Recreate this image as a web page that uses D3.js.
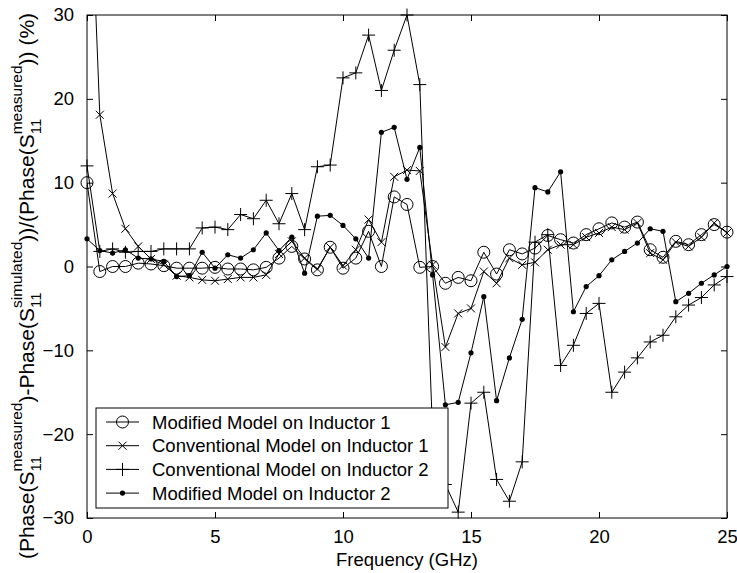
<!DOCTYPE html>
<html>
<head>
<meta charset="utf-8">
<script src="https://cdn.jsdelivr.net/npm/d3@7"></script>
<style>
  body { margin: 0; background: #fff; }
  text { font-family: "Liberation Sans", Arial, sans-serif; fill: #000; }
</style>
</head>
<body>
<div id="my_dataviz"></div>
<script>
// frequency points (GHz)
var freq = [0, 0.5, 1, 1.5, 2, 2.5, 3, 3.5, 4, 4.5, 5, 5.5, 6, 6.5, 7, 7.5, 8, 8.5, 9, 9.5,
            10, 10.5, 11, 11.5, 12, 12.5, 13, 13.5, 14, 14.5, 15, 15.5, 16, 16.5, 17, 17.5, 18, 18.5, 19, 19.5,
            20, 20.5, 21, 21.5, 22, 22.5, 23, 23.5, 24, 24.5, 25];

// Modified Model on Inductor 1 (circles)
var modInd1 = [10, -0.6, 0, 0, 0.4, 0.3, 0.1, -0.2, -0.2, -0.2, -0.1, -0.3, -0.3, -0.4, -0.1, 1.0, 2.4, 0.9, -0.4, 2.3,
               -0.2, 1.0, 4.2, 0, 8.3, 7.4, -0.1, 0, -2.0, -1.3, -1.7, 1.7, -0.9, 2.0, 1.5, 2.2, 3.7, 3.2, 2.8, 3.8,
               4.5, 5.2, 4.7, 5.3, 2.0, 1.1, 3.0, 2.6, 3.8, 5.0, 4.1];
// Conventional Model on Inductor 1 (x marks)
var convInd1 = [57, 18.1, 8.7, 4.5, 2.4, 0.9, 0.2, -1.1, -1.3, -1.6, -1.7, -1.5, -1.3, -1.3, -1.0, 1.5, 3.0, 1.0, -0.3, 2.3,
                0.1, 2.0, 5.6, 2.9, 10.7, 11.5, 11.4, 0.2, -9.6, -5.6, -5.0, -0.6, -2.0, 1.0, 0.2, 0.5, 2.0, 2.6, 2.6, 3.5,
                4.0, 4.7, 4.4, 5.2, 1.6, 0.8, 2.9, 2.4, 3.5, 5.2, 4.0];
// Conventional Model on Inductor 2 (+ marks)
var convInd2 = [12, 1.8, 2.1, 1.7, 1.8, 1.8, 2.1, 2.1, 2.1, 4.6, 4.7, 4.4, 6.2, 5.7, 7.9, 5.1, 8.7, 4.4, 11.9, 12.1,
                22.5, 23.1, 27.6, 21.0, 25.8, 30, 21.7, -20, -26, -29.3, -16.3, -15, -25.4, -28, -23.3, 2.9, 3.8, -11.8, -9.4, -5.6,
                -4.4, -15, -12.6, -10.9, -9.0, -8.2, -6.0, -4.6, -3.7, -2.2, -1.2];
// Modified Model on Inductor 2 (dots)
var modInd2 = [3.3, 1.9, 1.6, 2.0, 1.0, 0.9, 0.6, -1.2, -1.1, 1.7, -0.2, 1.4, 1.0, 2.0, 4.0, 1.9, 3.5, -0.8, 6.0, 6.1,
               4.9, 3.3, 1.0, 16.0, 16.6, 10.4, 14.2, -1.0, -16.5, -16.2, -10.3, -3.6, -16, -10.9, -6.3, 9.4, 8.9, 11.3, -5.4, -2.4,
               -1.1, 0.8, 1.8, 2.8, 4.5, 4.2, -4.2, -3.2, -2.0, -1.0, 0.0];

var seriesNames = ["Modified Model on Inductor 1", "Conventional Model on Inductor 1",
                   "Conventional Model on Inductor 2", "Modified Model on Inductor 2"];
var seriesMarks = ["circle", "cross", "plus", "dot"];
var xTicks = [0, 5, 10, 15, 20, 25];
var yTicks = [-30, -20, -10, 0, 10, 20, 30];

var W = 737, H = 573;
var mLeft = 87, mRight = 727, mTop = 15, mBottom = 518;
var fontSize = 18.5;

var svg = d3.select("#my_dataviz")
  .append("svg")
  .attr("width", W)
  .attr("height", H);

var x = d3.scaleLinear().domain([0, 25]).range([mLeft, mRight]);
var y = d3.scaleLinear().domain([-30, 30]).range([mBottom, mTop]);

svg.append("defs").append("clipPath").attr("id", "plotclip")
  .append("rect")
  .attr("x", mLeft).attr("y", mTop)
  .attr("width", mRight - mLeft).attr("height", mBottom - mTop);

// axes (ticks inside, on all four sides)
svg.append("g")
  .attr("transform", "translate(0," + mBottom + ")")
  .call(d3.axisBottom(x).tickValues(xTicks).tickSizeInner(-6).tickSizeOuter(0).tickPadding(12))
  .call(function(g) {
    g.select(".domain").remove();
    g.selectAll("text").attr("font-size", fontSize).attr("font-family", "Liberation Sans, Arial, sans-serif");
  });
svg.append("g")
  .attr("transform", "translate(0," + mTop + ")")
  .call(d3.axisTop(x).tickValues(xTicks).tickSizeInner(-6).tickSizeOuter(0).tickFormat(""))
  .call(function(g) { g.select(".domain").remove(); });
svg.append("g")
  .attr("transform", "translate(" + mLeft + ",0)")
  .call(d3.axisLeft(y).tickValues(yTicks).tickSizeInner(-6).tickSizeOuter(0).tickPadding(13))
  .call(function(g) {
    g.select(".domain").remove();
    g.selectAll("text").attr("font-size", fontSize).attr("font-family", "Liberation Sans, Arial, sans-serif");
  });
svg.append("g")
  .attr("transform", "translate(" + mRight + ",0)")
  .call(d3.axisRight(y).tickValues(yTicks).tickSizeInner(-6).tickSizeOuter(0).tickFormat(""))
  .call(function(g) { g.select(".domain").remove(); });

svg.selectAll(".tick line").attr("stroke", "#000");

svg.append("rect")
  .attr("x", mLeft).attr("y", mTop)
  .attr("width", mRight - mLeft).attr("height", mBottom - mTop)
  .attr("fill", "none").attr("stroke", "#000").attr("stroke-width", 1);

// marker drawing
function drawMark(g, type, cx, cy) {
  if (type == "circle") {
    g.append("circle").attr("cx", cx).attr("cy", cy).attr("r", 6)
      .attr("fill", "none").attr("stroke", "#000");
  } else if (type == "cross") {
    var s = 4;
    g.append("path").attr("d", "M" + (cx - s) + "," + (cy - s) + "L" + (cx + s) + "," + (cy + s) +
      "M" + (cx - s) + "," + (cy + s) + "L" + (cx + s) + "," + (cy - s))
      .attr("stroke", "#000").attr("fill", "none");
  } else if (type == "plus") {
    var p = 6.5;
    g.append("path").attr("d", "M" + (cx - p) + "," + cy + "L" + (cx + p) + "," + cy +
      "M" + cx + "," + (cy - p) + "L" + cx + "," + (cy + p))
      .attr("stroke", "#000").attr("fill", "none");
  } else {
    g.append("circle").attr("cx", cx).attr("cy", cy).attr("r", 2.6).attr("fill", "#000");
  }
}

var allSeries = [modInd1, convInd1, convInd2, modInd2];
var line = d3.line()
  .x(function(d, i) { return x(freq[i]); })
  .y(function(d) { return y(d); });

var plot = svg.append("g").attr("clip-path", "url(#plotclip)");
allSeries.forEach(function(vals, k) {
  plot.append("path")
    .datum(vals)
    .attr("d", line)
    .attr("fill", "none")
    .attr("stroke", "#000")
    .attr("stroke-width", 1);
});
var marks = svg.append("g");
allSeries.forEach(function(vals, k) {
  vals.forEach(function(v, i) {
    if (v > 30 || v < -30) return;
    drawMark(marks, seriesMarks[k], x(freq[i]), y(v));
  });
});

// legend
var leg = svg.append("g");
leg.append("rect")
  .attr("x", 96).attr("y", 408).attr("width", 352).attr("height", 100)
  .attr("fill", "#fff").attr("stroke", "#000");
seriesNames.forEach(function(name, k) {
  var ly = 422 + k * 23.7;
  leg.append("line").attr("x1", 106).attr("x2", 139).attr("y1", ly).attr("y2", ly).attr("stroke", "#000");
  drawMark(leg, seriesMarks[k], 122.5, ly);
  leg.append("text").attr("x", 152).attr("y", ly + 6.5)
    .attr("font-size", fontSize).text(name);
});

// x label
svg.append("text")
  .attr("x", (mLeft + mRight) / 2).attr("y", 566)
  .attr("text-anchor", "middle")
  .attr("font-size", fontSize)
  .text("Frequency (GHz)");

// y label with stacked sub/superscripts
var ylab = [
  {t: "(Phase(S"}, {sub: "11", sup: "measured"},
  {t: ")-Phase(S"}, {sub: "11", sup: "simulated"},
  {t: "))/(Phase(S"}, {sub: "11", sup: "measured"},
  {t: ")) (%)"}
];
var yl = svg.append("g");
var cursor = 0;
ylab.forEach(function(seg) {
  if (seg.t) {
    var t = yl.append("text").attr("x", cursor).attr("y", 0).attr("font-size", 21).text(seg.t);
    cursor += t.node().getComputedTextLength();
  } else {
    var a = yl.append("text").attr("x", cursor).attr("y", 7).attr("font-size", 15).text(seg.sub);
    var b = yl.append("text").attr("x", cursor).attr("y", -12).attr("font-size", 15.5).text(seg.sup);
    cursor += Math.max(a.node().getComputedTextLength(), b.node().getComputedTextLength());
  }
});
yl.attr("transform", "translate(34," + (286 + cursor / 2) + ") rotate(-90)");
</script>
</body>
</html>
